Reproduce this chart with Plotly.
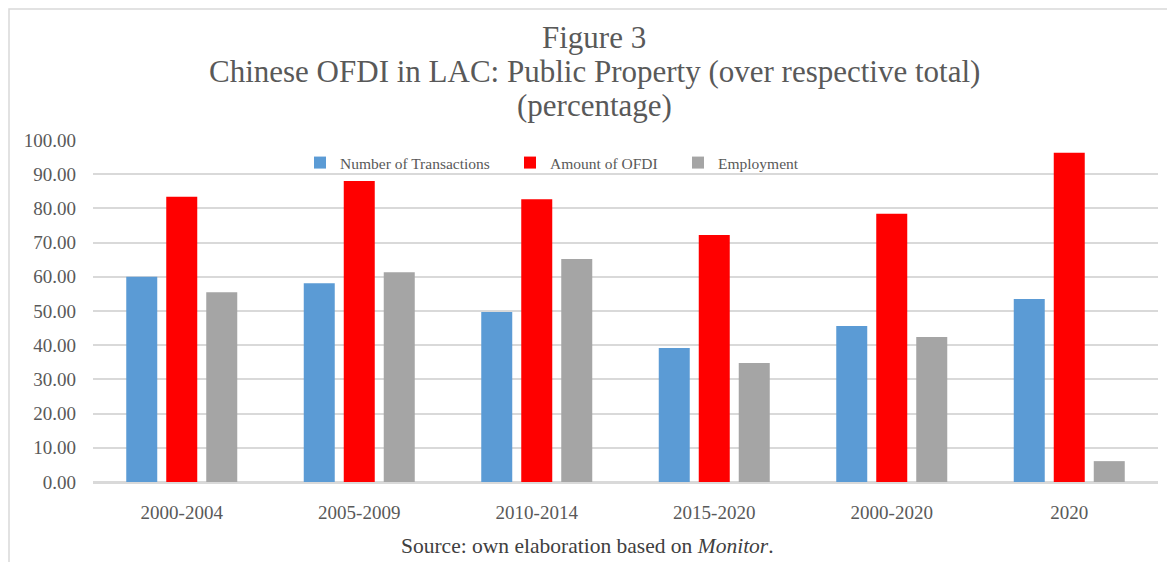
import plotly.graph_objects as go

categories = ["2000-2004", "2005-2009", "2010-2014", "2015-2020", "2000-2020", "2020"]
transactions = [60.0, 58.1, 49.7, 39.2, 45.6, 53.5]
amount_ofdi = [83.4, 88.0, 82.7, 72.2, 78.4, 96.3]
employment = [55.5, 61.3, 65.2, 34.8, 42.4, 6.1]

series_names = ["Number of Transactions", "Amount of OFDI", "Employment"]
series_colors = ["#5b9bd5", "#ff0000", "#a5a5a5"]

FONT = "Liberation Serif, Times New Roman, serif"
GRAY = "#595959"

# page body has an 8px margin: work in screen pixels and shift
OFF = 8
W, H = 1175 - OFF, 562 - OFF
# plot area in screen pixels: x 93..1158, y 140..482
L = 93 - OFF
R = W - (1158 - OFF)
T = 140 - OFF
B = H - (482 - OFF)
pw, ph = W - L - R, H - T - B

def px_x(px):
    return (px - OFF - L) / pw

def px_y(py):
    return (H - B - (py - OFF)) / ph

fig = go.Figure()
legends = ["legend", "legend2", "legend3"]
for name, vals, col, lg in zip(series_names, [transactions, amount_ofdi, employment], series_colors, legends):
    fig.add_trace(go.Bar(x=categories, y=vals, name=name, marker=dict(color=col, line=dict(width=0)),
                         legend=lg, hoverinfo="x+y+name"))

leg_common = dict(orientation="h", font=dict(family=FONT, size=15.5, color=GRAY),
                  bgcolor="rgba(0,0,0,0)", xanchor="left", yanchor="middle",
                  itemwidth=30, tracegroupgap=0)
legend_x = [300, 510, 678]
fig.update_layout(
    legend=dict(x=px_x(legend_x[0]), y=px_y(163), **leg_common),
    legend2=dict(x=px_x(legend_x[1]), y=px_y(163), **leg_common),
    legend3=dict(x=px_x(legend_x[2]), y=px_y(163), **leg_common),
)

fig.update_layout(
    width=W, height=H,
    margin=dict(l=L, r=R, t=T, b=B),
    paper_bgcolor="white", plot_bgcolor="white",
    barmode="group", bargap=0.324, bargroupgap=0.225,
    showlegend=True,
    font=dict(family=FONT, color=GRAY),
)
fig.update_yaxes(range=[0, 100], dtick=10, tickformat=".2f", showgrid=True, gridcolor="#d9d9d9",
                 gridwidth=1.5, zeroline=True, zerolinecolor="#d9d9d9", zerolinewidth=1.5,
                 showline=False, tickfont=dict(family=FONT, size=19, color=GRAY),
                 ticklabelstandoff=16, fixedrange=True)
fig.update_xaxes(showgrid=False, showline=True, linecolor="#d9d9d9", linewidth=1.5,
                 tickfont=dict(family=FONT, size=19, color=GRAY), ticklabelstandoff=12,
                 fixedrange=True)

# Titles
title_lines = [("Figure 3", 38), ("Chinese OFDI in LAC: Public Property (over respective total)", 72),
               ("(percentage)", 105)]
for txt, py in title_lines:
    fig.add_annotation(text=txt, x=px_x(594), y=px_y(py), xref="paper", yref="paper",
                       showarrow=False, xanchor="center", yanchor="middle",
                       font=dict(family=FONT, size=31, color=GRAY))

fig.add_annotation(text="Source: own elaboration based on <i>Monitor</i>.", x=px_x(587), y=px_y(546),
                   xref="paper", yref="paper", showarrow=False, xanchor="center", yanchor="middle",
                   font=dict(family=FONT, size=21.5, color="#404040"))

# Chart border (left and top edges)
fig.add_shape(type="path", xref="paper", yref="paper",
              path=f"M {px_x(1300)} {px_y(9)} L {px_x(9)} {px_y(9)} L {px_x(9)} {px_y(700)}",
              line=dict(color="#d9d9d9", width=1.5), layer="above")

fig.write_html("out.html")
